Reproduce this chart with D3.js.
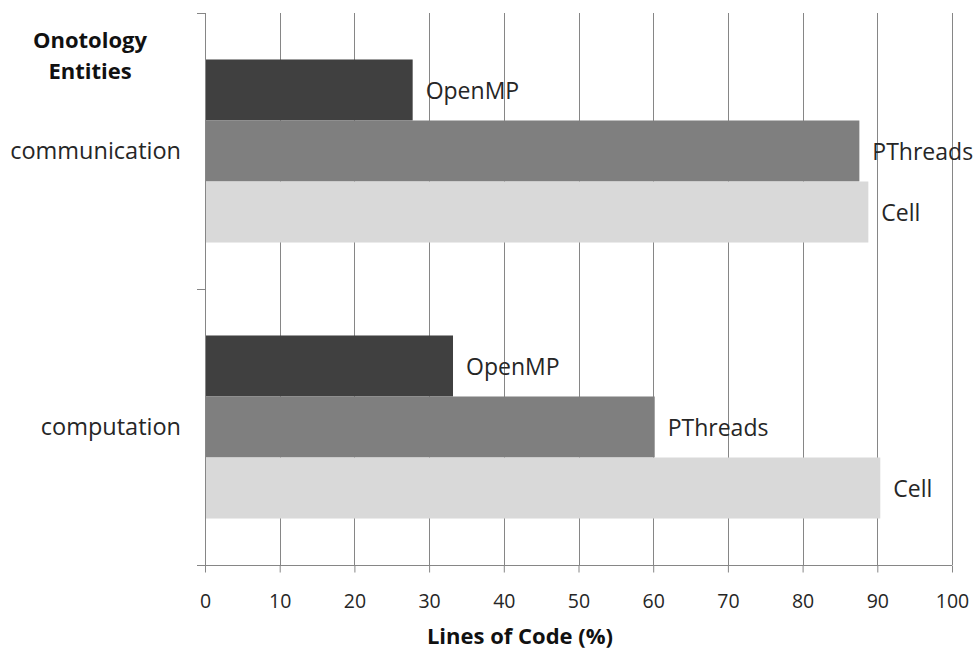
<!DOCTYPE html>
<html>
<head>
<meta charset="utf-8">
<script src="https://cdn.jsdelivr.net/npm/d3@7"></script>
<style>
  html, body { margin: 0; padding: 0; background: #fff; }
  svg { display: block; font-family: "Open Sans", sans-serif; }
</style>
</head>
<body>
<svg id="chart" width="974" height="654"></svg>
<script>
const categories = ["communication", "computation"];
const seriesNames = ["OpenMP", "PThreads", "Cell"];
const openmpValues = [27.8, 33.2];
const pthreadsValues = [87.6, 60.2];
const cellValues = [88.8, 90.4];
const seriesColors = ["#404040", "#7f7f7f", "#d9d9d9"];
const xTicks = [0, 10, 20, 30, 40, 50, 60, 70, 80, 90, 100];
const xTitle = "Lines of Code (%)";
const yTitleLines = ["Onotology", "Entities"];

const seriesValues = [openmpValues, pthreadsValues, cellValues];
const data = [];
categories.forEach((c, i) => {
  seriesNames.forEach((s, j) => {
    data.push({ category: c, series: s, value: seriesValues[j][i], color: seriesColors[j] });
  });
});

const svg = d3.select("#chart");
const plot = { left: 205, right: 952, top: 13, bottom: 565 };

const x = d3.scaleLinear().domain([0, 100]).range([plot.left, plot.right]);
const y = d3.scaleBand().domain(categories).range([plot.top, plot.bottom]).padding(0);
const ySub = d3.scaleBand().domain(seriesNames).range([0, y.bandwidth()])
  .paddingInner(0).paddingOuter(0.762);

const gridColor = "#868686";

// gridlines
svg.append("g").selectAll("line")
  .data(xTicks.filter(d => d !== 0))
  .join("line")
  .attr("x1", d => Math.round(x(d)) + 0.5)
  .attr("x2", d => Math.round(x(d)) + 0.5)
  .attr("y1", plot.top)
  .attr("y2", plot.bottom)
  .attr("stroke", gridColor)
  .attr("stroke-width", 1);

// bars
svg.append("g").selectAll("rect")
  .data(data)
  .join("rect")
  .attr("x", x(0))
  .attr("y", d => y(d.category) + ySub(d.series))
  .attr("width", d => x(d.value) - x(0))
  .attr("height", ySub.bandwidth())
  .attr("fill", d => d.color);

// bar labels
svg.append("g").selectAll("text")
  .data(data)
  .join("text")
  .attr("x", d => x(d.value) + 13)
  .attr("y", d => y(d.category) + ySub(d.series) + ySub.bandwidth() / 2)
  .attr("dy", "0.4em")
  .attr("font-size", 23)
  .attr("fill", "#262626")
  .text(d => d.series);

// x axis
const xAxis = d3.axisBottom(x).tickValues(xTicks).tickSize(7).tickPadding(22).tickFormat(d3.format("d"));
const gx = svg.append("g")
  .attr("transform", `translate(0,${plot.bottom + 0.5})`)
  .call(xAxis);
gx.select(".domain").attr("stroke", gridColor).attr("d", `M${plot.left},0H${plot.right}`);
gx.selectAll(".tick line").attr("stroke", gridColor);
gx.selectAll(".tick text")
  .attr("font-family", "Open Sans, sans-serif")
  .attr("font-size", 19.5)
  .attr("fill", "#262626");

// y axis line with ticks at band boundaries
const yBoundaries = [plot.top, y(categories[1]), plot.bottom];
svg.append("line")
  .attr("x1", plot.left + 0.5).attr("x2", plot.left + 0.5)
  .attr("y1", plot.top).attr("y2", plot.bottom + 7)
  .attr("stroke", gridColor);
svg.append("g").selectAll("line")
  .data(yBoundaries)
  .join("line")
  .attr("x1", plot.left - 8).attr("x2", plot.left)
  .attr("y1", d => Math.round(d) + 0.5).attr("y2", d => Math.round(d) + 0.5)
  .attr("stroke", gridColor);

// category labels
svg.append("g").selectAll("text")
  .data(categories)
  .join("text")
  .attr("x", 181)
  .attr("y", d => y(d) + y.bandwidth() / 2)
  .attr("dy", "0.36em")
  .attr("text-anchor", "end")
  .attr("font-size", 23.5)
  .attr("fill", "#262626")
  .text(d => d);

// y title
svg.append("text")
  .attr("x", 90)
  .attr("y", 48)
  .attr("text-anchor", "middle")
  .attr("font-size", 22)
  .attr("font-weight", "bold")
  .attr("fill", "#111")
  .selectAll("tspan")
  .data(yTitleLines)
  .join("tspan")
  .attr("x", 90)
  .attr("dy", (d, i) => i === 0 ? 0 : 31)
  .text(d => d);

// x title
svg.append("text")
  .attr("x", 520)
  .attr("y", 644)
  .attr("text-anchor", "middle")
  .attr("font-size", 22)
  .attr("font-weight", "bold")
  .attr("fill", "#111")
  .text(xTitle);
</script>
</body>
</html>
